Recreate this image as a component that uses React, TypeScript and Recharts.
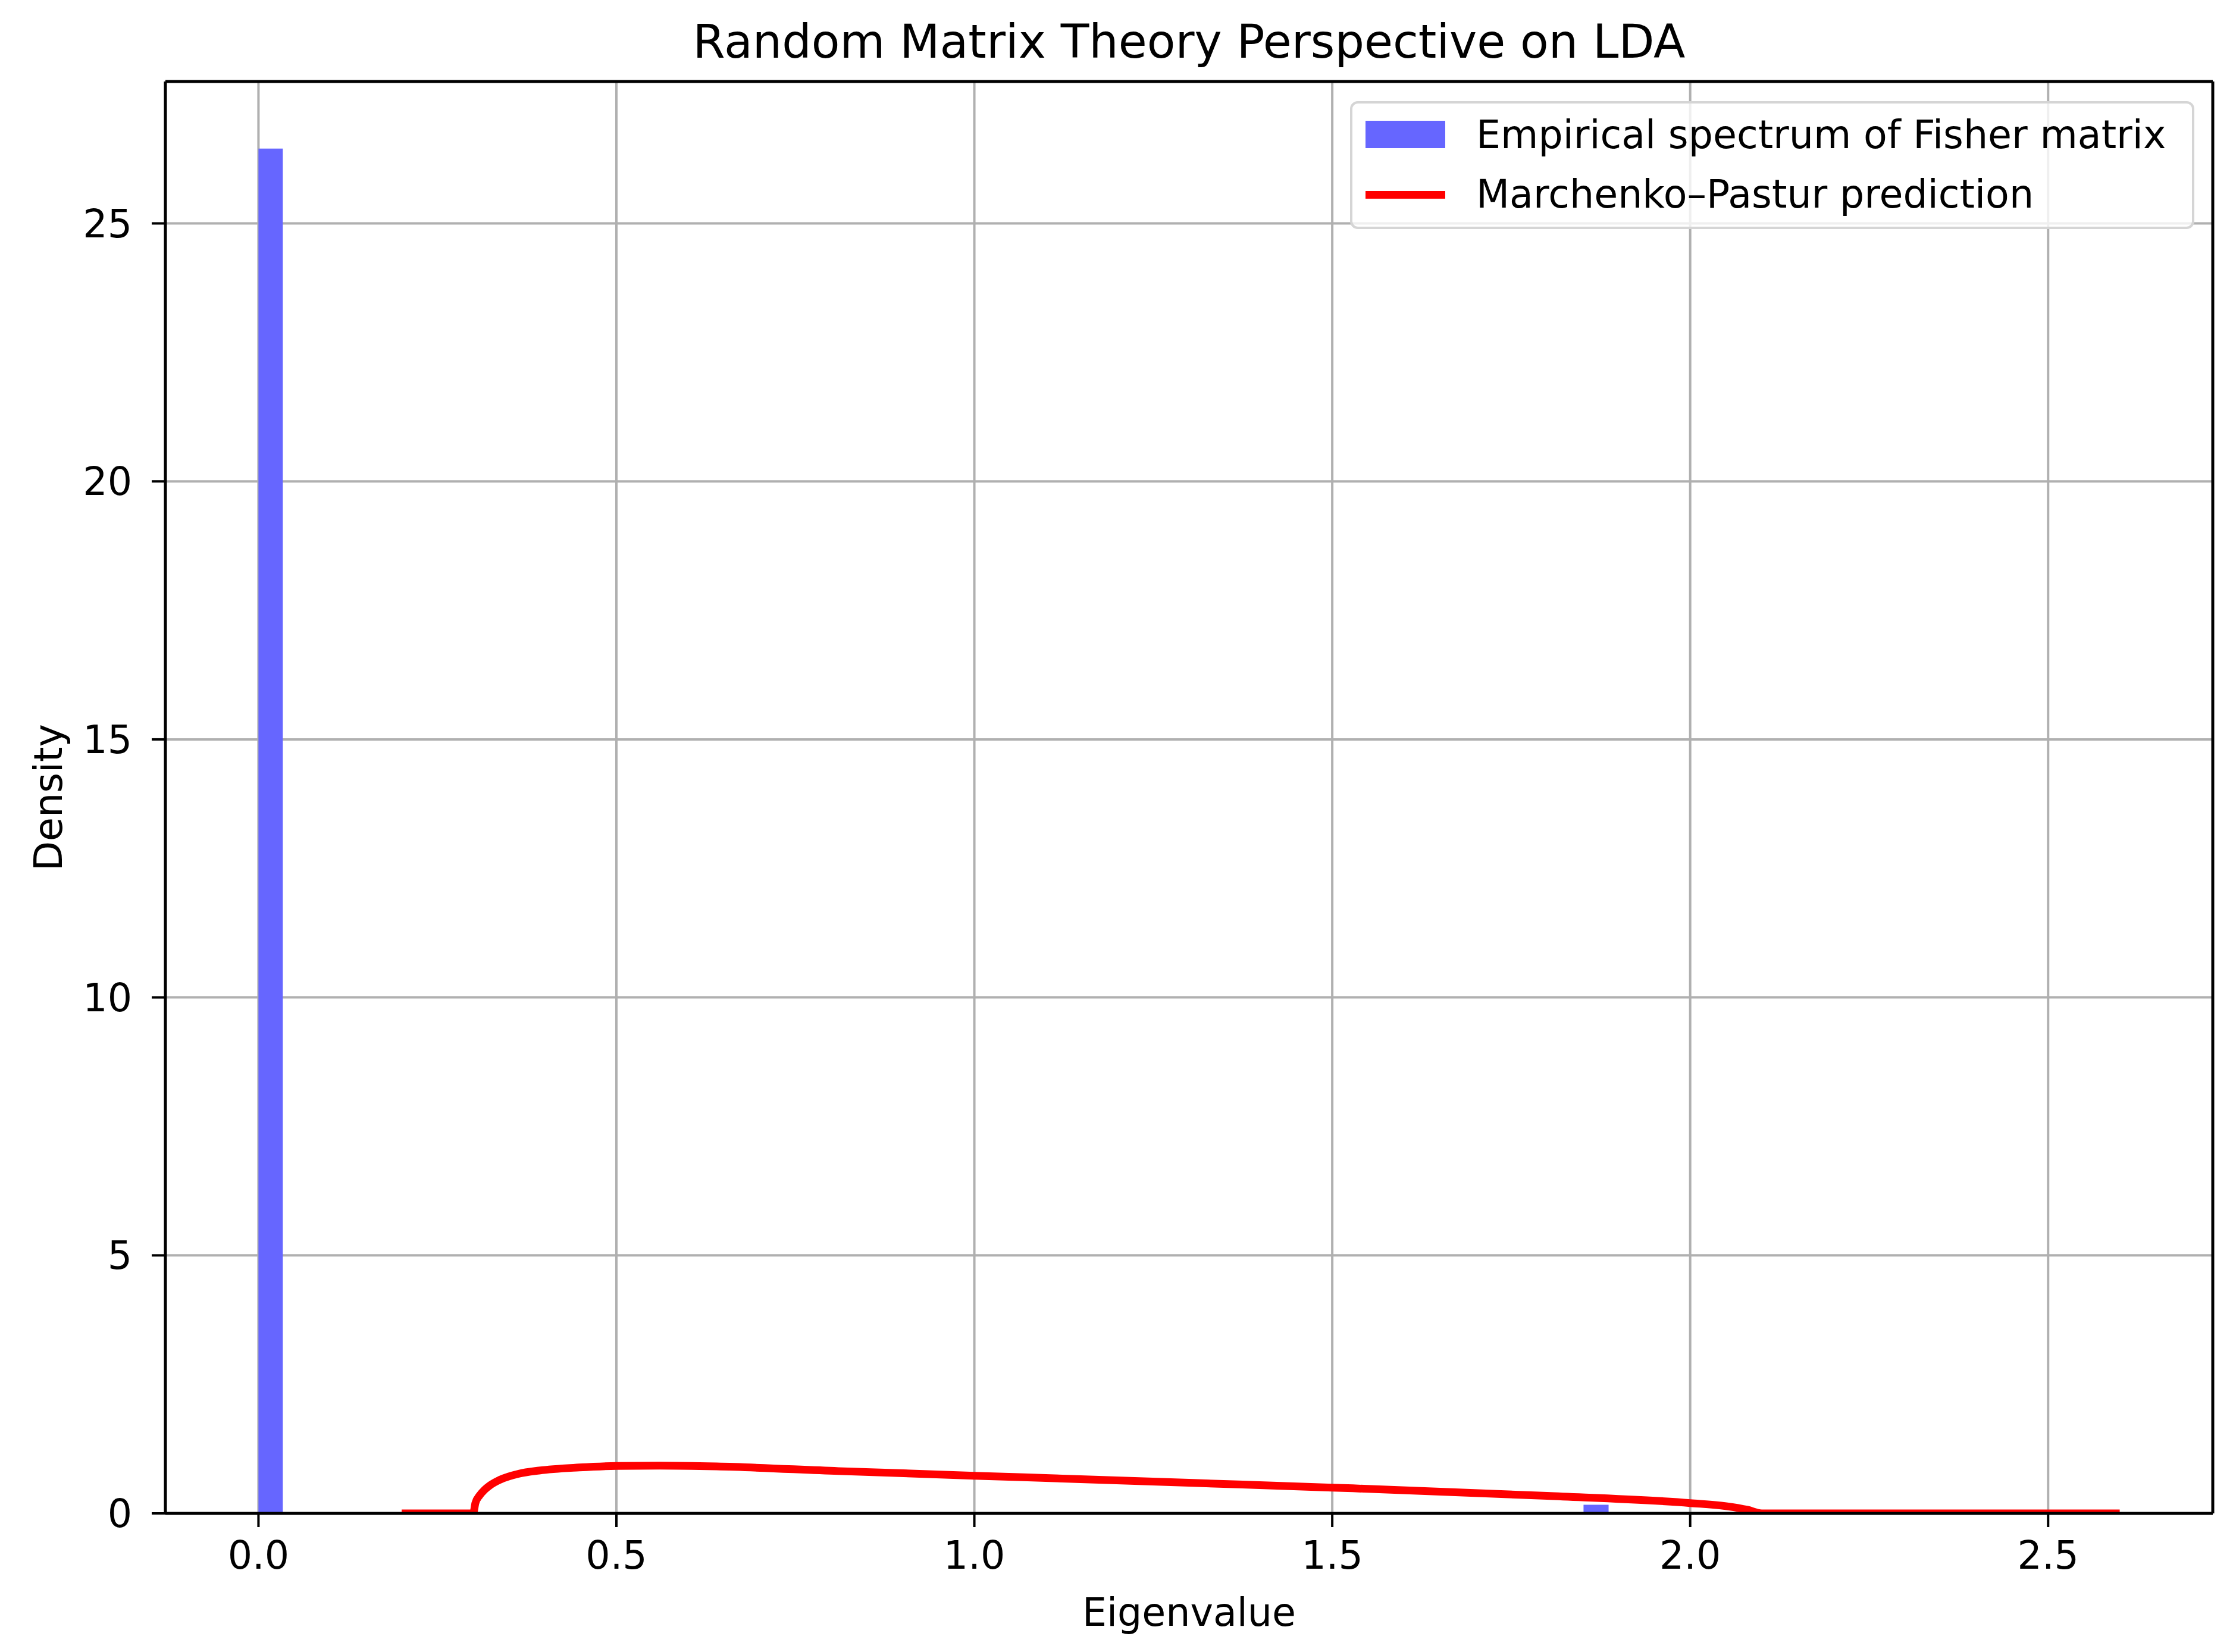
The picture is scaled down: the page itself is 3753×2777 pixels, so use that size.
import React from "react";
import {
  ComposedChart,
  Area,
  Line,
  XAxis,
  YAxis,
  CartesianGrid,
  Legend,
  ReferenceLine,
} from "recharts";

// histogram bins that are visible (all other bins are empty)
const binStart = [0, 1.851];
const binEnd = [0.034, 1.886];
const binDensity = [26.45, 0.166];

// Marchenko-Pastur curve
const mpEigen = [
  0.2, 0.3, 0.303, 0.309, 0.316, 0.323, 0.337, 0.364, 0.392, 0.448, 0.5,
  0.56, 0.64, 0.81, 1.0, 1.136, 1.306, 1.5, 1.8, 2.0, 2.05, 2.08, 2.1, 2.6,
];
const mpDensity = [
  0, 0, 0.2, 0.35, 0.46, 0.54, 0.65, 0.77, 0.83, 0.89, 0.92, 0.925, 0.91,
  0.82, 0.73, 0.67, 0.59, 0.5, 0.34, 0.2, 0.14, 0.07, 0, 0,
];

const xTicks = [0, 0.5, 1.0, 1.5, 2.0, 2.5];
const yTicks = [0, 5, 10, 15, 20, 25];

const X_DOMAIN: [number, number] = [-0.13, 2.73];
const Y_DOMAIN: [number, number] = [0, 27.75];

const FONT = "DejaVu Sans";
const HIST_NAME = "Empirical spectrum of Fisher matrix";
const MP_NAME = "Marchenko\u2013Pastur prediction";

// step outline of the histogram, drawn as an area
const histData = binStart.flatMap((s, i) => [
  { x: s, density: 0 },
  { x: s, density: binDensity[i] },
  { x: binEnd[i], density: binDensity[i] },
  { x: binEnd[i], density: 0 },
]);
const mpData = mpEigen.map((x, i) => ({ x, mp: mpDensity[i] }));

const tickStyle = { fontFamily: FONT, fontSize: 65, fill: "#000" };
const spine = { stroke: "#000", strokeWidth: 5 };

const LegendBox = ({ payload }: any) => (
  <div
    style={{
      position: "relative",
      width: 1419,
      height: 215,
      boxSizing: "border-box",
      border: "4px solid #d5d5d5",
      borderRadius: 13,
      background: "rgba(255,255,255,0.8)",
      fontFamily: FONT,
      fontSize: 65,
      lineHeight: "65px",
      color: "#000",
    }}
  >
    {(payload || []).map((entry: any, i: number) => (
      <React.Fragment key={i}>
        {entry.type === "line" ? (
          <div
            style={{
              position: "absolute",
              left: 22,
              top: 47 + i * 100,
              width: 134,
              height: 13,
              background: entry.color,
            }}
          />
        ) : (
          <div
            style={{
              position: "absolute",
              left: 22,
              top: 29 + i * 100,
              width: 134,
              height: 46,
              background: entry.color,
            }}
          />
        )}
        <div
          style={{
            position: "absolute",
            left: 208,
            top: 20 + i * 100,
            whiteSpace: "nowrap",
          }}
        >
          {entry.value}
        </div>
      </React.Fragment>
    ))}
  </div>
);

const YLabel = ({ viewBox }: any) => {
  const cx = viewBox.x + 104;
  const cy = viewBox.y + viewBox.height / 2;
  return (
    <text
      x={cx}
      y={cy}
      transform={`rotate(-90, ${cx}, ${cy})`}
      textAnchor="middle"
      fontFamily={FONT}
      fontSize={65}
      fill="#000"
    >
      Density
    </text>
  );
};

const XLabel = ({ viewBox }: any) => (
  <text
    x={viewBox.x + viewBox.width / 2}
    y={viewBox.y + 189}
    textAnchor="middle"
    fontFamily={FONT}
    fontSize={65}
    fill="#000"
  >
    Eigenvalue
  </text>
);

const App = () => (
  <div
    style={{
      position: "absolute",
      left: 0,
      top: 0,
      width: 3753,
      height: 2777,
      background: "#fff",
    }}
  >
    <div
      style={{
        position: "absolute",
        left: 278,
        width: 3441,
        top: 31,
        textAlign: "center",
        fontFamily: FONT,
        fontSize: 78,
        lineHeight: "78px",
        color: "#000",
        whiteSpace: "nowrap",
      }}
    >
      Random Matrix Theory Perspective on LDA
    </div>
    <ComposedChart
      width={3753}
      height={2777}
      margin={{ top: 137, right: 34, bottom: 0, left: 0 }}
    >
      <CartesianGrid stroke="#b0b0b0" strokeWidth={4} />
      <Area
        data={histData}
        dataKey="density"
        name={HIST_NAME}
        type="linear"
        stroke="none"
        fill="#6666ff"
        fillOpacity={1}
        legendType="rect"
        isAnimationActive={false}
      />
      <Line
        data={mpData}
        dataKey="mp"
        name={MP_NAME}
        type="monotone"
        stroke="#ff0000"
        strokeWidth={13}
        dot={false}
        legendType="line"
        isAnimationActive={false}
      />
      {/* top and right spines */}
      <ReferenceLine y={Y_DOMAIN[1]} stroke="#000" strokeWidth={5} />
      <ReferenceLine x={X_DOMAIN[1]} stroke="#000" strokeWidth={5} />
      <XAxis
        dataKey="x"
        type="number"
        domain={X_DOMAIN}
        allowDataOverflow
        ticks={xTicks}
        tickFormatter={(v: number) => v.toFixed(1)}
        height={233}
        tickSize={23}
        tickMargin={24}
        tick={tickStyle}
        tickLine={{ stroke: "#000", strokeWidth: 4 }}
        axisLine={spine}
        label={{ content: XLabel }}
      />
      <YAxis
        type="number"
        domain={Y_DOMAIN}
        allowDataOverflow
        ticks={yTicks}
        width={278}
        tickSize={23}
        tickMargin={33}
        tick={tickStyle}
        tickLine={{ stroke: "#000", strokeWidth: 4 }}
        axisLine={spine}
        label={{ content: YLabel }}
      />
      <Legend
        layout="vertical"
        align="center"
        verticalAlign="middle"
        wrapperStyle={{ top: 170, left: 2269, width: 1419, height: 215 }}
        content={LegendBox}
      />
    </ComposedChart>
  </div>
);

export default App;
